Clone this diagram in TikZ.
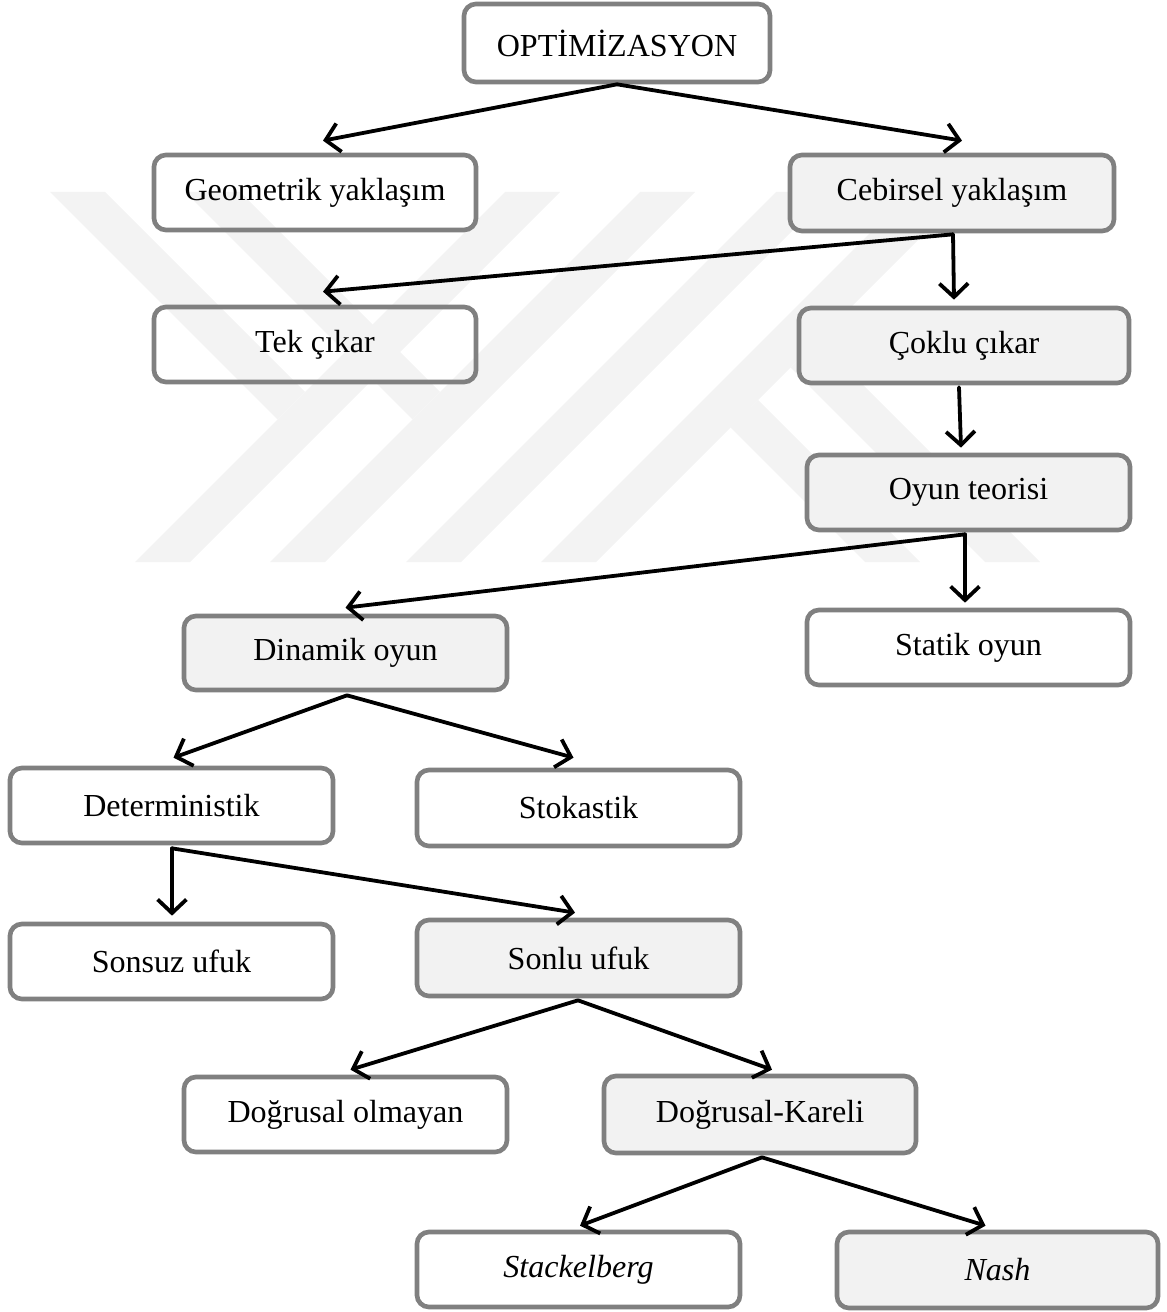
\documentclass[tikz,border=0pt]{standalone}
\usepackage{fontspec}
\setmainfont{Liberation Serif}
\usetikzlibrary{arrows.meta,calc}
\definecolor{boxgray}{RGB}{242,242,242}
\definecolor{bordergray}{RGB}{128,128,128}
\definecolor{wmgray}{RGB}{243,243,243}
\begin{document}
\begin{tikzpicture}[x=0.025cm,y=-0.025cm,
  box/.style={draw=bordergray, line width=3.3pt, rounded corners=0.3cm,
    minimum width=8.075cm, minimum height=1.875cm, inner sep=0pt,
    font=\fontsize{22.8}{27}\selectfont},
  wbox/.style={box},
  gbox/.style={box, fill=boxgray},
  arr/.style={line width=2.7pt, line cap=round,
    -{Straight Barb[length=0.34cm,width=0.72cm]}},
  wm/.style={fill=wmgray, draw=none}
]
\useasboundingbox (0,0) rectangle (1166,1312);
% watermark
\fill[wm] (50,192) -- (105,192) -- (305,392) -- (277.5,419.5) -- cycle;
\fill[wm] (505,192) -- (560,192) -- (190,562) -- (135,562) -- cycle;
\fill[wm] (185,192) -- (240,192) -- (440,392) -- (412.5,419.5) -- cycle;
\fill[wm] (640,192) -- (695,192) -- (325,562) -- (270,562) -- cycle;
\fill[wm] (776,192) -- (831,192) -- (461,562) -- (406,562) -- cycle;
\fill[wm] (911,192) -- (966,192) -- (596,562) -- (541,562) -- cycle;
\fill[wm] (758,400) -- (920,562) -- (865,562) -- (730,427) -- cycle;
\fill[wm] (818,340) -- (1040,562) -- (985,562) -- (790.5,367.5) -- cycle;
% nodes
\node[wbox, minimum width=7.65cm, minimum height=1.95cm] (opt) at (617,43) {OPTİMİZASYON};
\node[wbox, minimum width=8.05cm] (geo) at (315,192.5) {Geometrik yaklaşım};
\node[gbox, minimum width=8.1cm, minimum height=1.9cm] (ceb) at (952,193) {Cebirsel yaklaşım};
\node[wbox, minimum width=8.05cm] (tek) at (315,344.5) {Tek çıkar};
\node[gbox, minimum width=8.25cm] (cok) at (964,345.5) {Çoklu çıkar};
\node[gbox] (oyun) at (968.5,492.5) {Oyun teorisi};
\node[gbox, minimum height=1.85cm] (din) at (345.5,653) {Dinamik oyun};
\node[wbox] (stat) at (968.5,647.5) {Statik oyun};
\node[wbox] (det) at (171.5,805.5) {Deterministik};
\node[wbox, minimum height=1.9cm] (stok) at (578.5,808) {Stokastik};
\node[wbox] (sonsuz) at (171.5,961.5) {Sonsuz ufuk};
\node[gbox, minimum height=1.9cm] (sonlu) at (578.5,958) {Sonlu ufuk};
\node[wbox] (dol) at (345.5,1114.5) {Doğrusal olmayan};
\node[gbox, minimum width=7.8cm, minimum height=1.925cm] (dk) at (760,1114.5) {Doğrusal-Kareli};
\node[wbox] (stack) at (578.5,1269.5) {\itshape Stackelberg};
\node[gbox, minimum width=8.025cm, minimum height=1.9cm] (nash) at (997.5,1270) {\itshape Nash};
% connectors
\draw[arr] (opt.south) -- ($(geo.north)+(8,-12)$);
\draw[arr] (opt.south) -- ($(ceb.north)+(10,-12)$);
\draw[arr] ($(ceb.south)+(1,1)$) -- ($(tek.north)+(8,-13)$);
\draw[arr] ($(ceb.south)+(1,1)$) -- ($(cok.north)+(-10,-6)$);
\draw[arr] ($(cok.south)+(-5,2)$) -- ($(oyun.north)+(-7.5,-5)$);
\draw[arr] ($(oyun.south)+(-3.5,2)$) -- ($(din.north)+(0,-6)$);
\draw[arr] ($(oyun.south)+(-3.5,2)$) -- ($(stat.north)+(-3.5,-5)$);
\draw[arr] ($(din.south)+(1.5,3)$) -- ($(det.north)+(2,-8)$);
\draw[arr] ($(din.south)+(1.5,3)$) -- ($(stok.north)+(-5,-10)$);
\draw[arr] ($(det.south)+(0.5,3)$) -- ($(sonsuz.north)+(0.5,-6)$);
\draw[arr] ($(det.south)+(0.5,3)$) -- ($(sonlu.north)+(-3.5,-5)$);
\draw[arr] ($(sonlu.south)+(-0.5,2)$) -- ($(dol.north)+(5,-5)$);
\draw[arr] ($(sonlu.south)+(-0.5,2)$) -- ($(dk.north)+(12,-4)$);
\draw[arr] ($(dk.south)+(2,2)$) -- ($(stack.north)+(1.5,-4)$);
\draw[arr] ($(dk.south)+(2,2)$) -- ($(nash.north)+(-12,-4)$);
\end{tikzpicture}
\end{document}
